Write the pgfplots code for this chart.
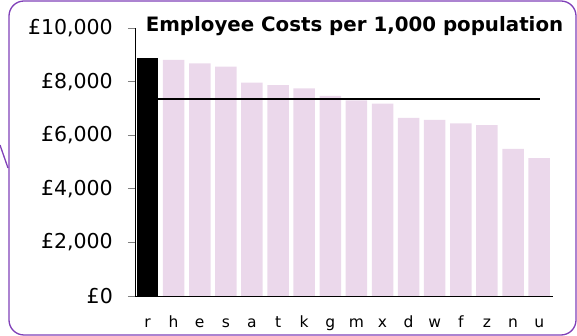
\documentclass[border=0pt]{standalone}
\usepackage{pgfplots}
\pgfplotsset{compat=1.18}
\usepackage{fontspec}
\setmainfont{DejaVu Sans}
\definecolor{barpink}{HTML}{EBD8EB}
\definecolor{framepurple}{HTML}{8040B8}
\begin{document}
\begin{tikzpicture}[x=1pt,y=1pt]
\useasboundingbox (0,0) rectangle (577,336);
\draw[framepurple, line width=1.3pt, rounded corners=15pt] (9,1) rectangle (576,335);
\draw[framepurple, line width=1.3pt] (0,191) -- (8,168);
\begin{axis}[
  at={(135pt,40pt)}, anchor=south west,
  width=418pt, height=268pt, scale only axis,
  xmin=-0.48, xmax=15.53, ymin=0, ymax=10000,
  axis x line*=bottom, axis y line*=left,
  axis line style={black, line width=0.8pt, -},
  ytick={0,2000,4000,6000,8000,10000},
  xtick={0,...,15}, xticklabels={r,h,e,s,a,t,k,g,m,x,d,w,f,z,n,u},
  major x tick style={draw=none},
  ytick style={gray, line width=0.8pt},
  tick align=outside, major tick length=7pt,
  scaled y ticks=false,
  yticklabel={£\pgfmathprintnumber{\tick}},
  /pgf/number format/1000 sep={,},
  /pgf/number format/assume math mode=true,
  yticklabel style={font=\fontsize{20.5}{24}\selectfont, inner sep=0pt, anchor=east, xshift=-15pt},
  xticklabel style={font=\fontsize{15.5}{18}\selectfont, anchor=base, yshift=-25pt},
  ybar, bar width=21.5pt, bar shift=0pt,
]
\addplot[fill=black, draw=none] coordinates {(0,8880)};
\addplot[fill=barpink, draw=none] coordinates {(1,8810) (2,8680) (3,8560) (4,7960) (5,7870) (6,7750) (7,7470) (8,7300) (9,7180) (10,6650) (11,6570) (12,6440) (13,6380) (14,5490) (15,5140)};
\addplot[black, line width=1.6pt, sharp plot] coordinates {(0.41,7350) (15.04,7350)};
\end{axis}
\node[anchor=base, font=\bfseries\fontsize{19.8}{24}\selectfont, inner sep=0pt] at (354.5,304) {Employee Costs per 1,000 population};
\end{tikzpicture}
\end{document}
